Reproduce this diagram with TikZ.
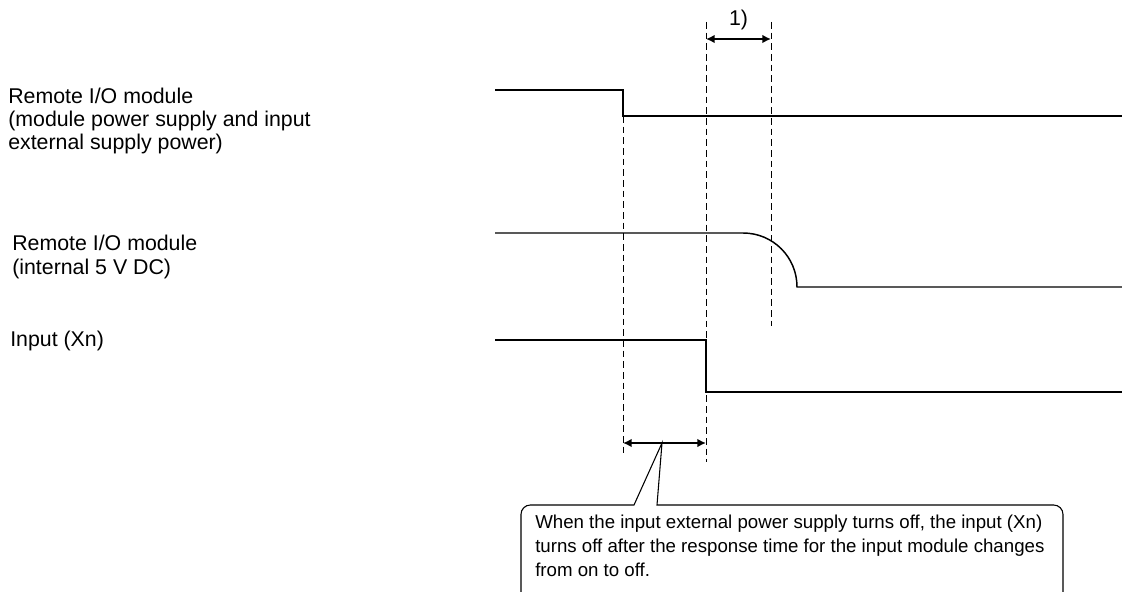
\documentclass[tikz,border=0pt]{standalone}
\usepackage{fontspec}
\setmainfont{Liberation Sans}
\usetikzlibrary{arrows.meta}
\tikzset{
    sig/.style={line width=1.1pt},
    guide/.style={line width=0.6pt, dash pattern=on 5pt off 3pt},
    span/.style={{Latex[length=6.5pt,width=6.5pt]}-{Latex[length=6.5pt,width=6.5pt]}, line width=1.5pt},
    lbl/.style={anchor=base west, align=left, inner sep=0pt, font=\fontsize{16}{17.5}\selectfont},
    notetext/.style={anchor=base west, align=left, inner sep=0pt, font=\fontsize{14}{18}\selectfont}
}
\begin{document}
\begin{tikzpicture}[x=0.75pt, y=-0.75pt]
    \useasboundingbox (0,0) rectangle (1122,592);
    % signal names (base = last line)
    \node[lbl] (power) at (8,150) {Remote I/O module\\(module power supply and input\\external supply power)};
    \node[lbl] (int5v) at (12,274) {Remote I/O module\\(internal 5 V DC)};
    \node[lbl] (input) at (10,346) {Input (Xn)};
    % waveforms
    \draw[sig] (495,90) -- (623,90) -- (623,116) -- (1122,116);
    \draw[sig] (495,233) -- (743,233) .. controls (773,233) and (797,257) .. (797,287) -- (1122,287);
    \draw[sig] (495,340) -- (706,340) -- (706,392) -- (1122,392);
    % timing guides
    \coordinate (g1top) at (623,116);  \coordinate (g1bot) at (623,456);
    \coordinate (g2top) at (706,22);   \coordinate (g2bot) at (706,462);
    \coordinate (g3top) at (771,22);   \coordinate (g3bot) at (771,326);
    \foreach \g in {g1, g2, g3}
        \draw[guide] (\g top) -- (\g bot);
    % spans
    \coordinate (s1a) at (706,39); \coordinate (s1b) at (771,39);
    \coordinate (s2a) at (623,443); \coordinate (s2b) at (706,443);
    \draw[span] (s1a) -- (s1b) node[midway, above=6pt, inner sep=0pt, font=\fontsize{16}{18}\selectfont] (one) {1)};
    \draw[span] (s2a) -- (s2b);
    % callout
    \coordinate (tip) at (662,443);
    \node[notetext] (note) at (535,576) {When the input external power supply turns off, the input (Xn)\\turns off after the response time for the input module changes\\from on to off.};
    \draw[line width=0.8pt] (521,593) [rounded corners=7pt] -- (521,505)
        [sharp corners] -- (634,505) -- (tip) -- (657,505)
        [rounded corners=7pt] -- (1063,505) -- (1063,593);
\end{tikzpicture}
\end{document}
